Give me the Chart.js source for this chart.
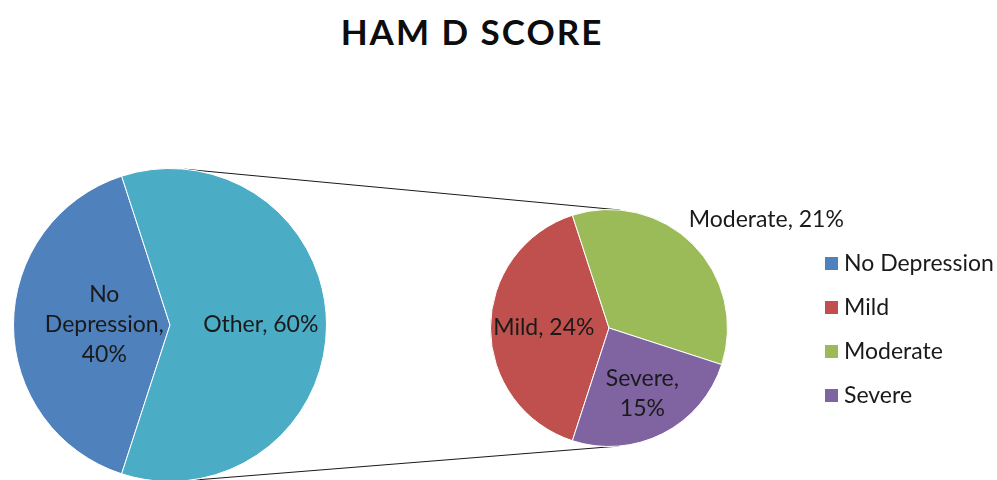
<!DOCTYPE html>
<html>
<head>
<meta charset="utf-8">
<title>HAM D SCORE</title>
<script src="https://cdn.jsdelivr.net/npm/chart.js@4.4.1/dist/chart.umd.min.js"></script>
<style>
  html, body { margin: 0; padding: 0; background: #fff; }
  #page { position: relative; width: 997px; height: 480px; overflow: hidden; font-family: Lato, "Open Sans", sans-serif; }
  #title { position: absolute; left: 0; top: 10px; width: 944px; text-align: center; font-weight: bold; font-size: 35px; letter-spacing: 2px; color: #0d0d0d; }
  .pie { position: absolute; }
  #links { position: absolute; left: 0; top: 0; pointer-events: none; }
  #legend { position: absolute; left: 825px; top: 249px; }
  #legend div { height: 44px; line-height: 26px; font-size: 23px; color: #1a1a1a; white-space: nowrap; }
  #legend span { display: inline-block; width: 13px; height: 13px; margin-right: 6px; vertical-align: 1px; }
</style>
</head>
<body>
<div id="page">
  <div id="title">HAM D SCORE</div>
  <canvas id="links" width="997" height="480"></canvas>
  <div class="pie" style="left:0px; top:155px; width:340px; height:340px;"><canvas id="mainPie"></canvas></div>
  <div class="pie" style="left:484px; top:203px; width:390px; height:250px;"><canvas id="subPie"></canvas></div>
  <div id="legend"></div>
</div>
<script>
// first pie: no depression vs. everyone else
const mainLabels = ['No Depression', 'Other'];
const mainValues = [40, 60];
const mainColors = ['#4F81BD', '#4BACC6'];

// second pie: how the "Other" group splits up
const subLabels = ['Mild', 'Moderate', 'Severe'];
const subValues = [24, 21, 15];
const subColors = ['#C0504D', '#9BBB59', '#8064A2'];

const legendLabels = ['No Depression', 'Mild', 'Moderate', 'Severe'];
const legendColors = [mainColors[0], ...subColors];

const labelFont = '23px Lato, "Open Sans", sans-serif';

// draws "Name, NN%" on each slice
const sliceLabels = {
    id: 'sliceLabels',
    afterDatasetsDraw(chart, args, opts) {
        const ctx = chart.ctx;
        const values = chart.data.datasets[0].data;
        chart.getDatasetMeta(0).data.forEach((arc, i) => {
            const p = opts.place[i];
            const mid = (arc.startAngle + arc.endAngle) / 2;
            const r = arc.outerRadius * p.frac;
            const x = arc.x + Math.cos(mid) * r + (p.dx || 0);
            const y = arc.y + Math.sin(mid) * r + (p.dy || 0);
            const text = chart.data.labels[i] + ', ' + values[i] + '%';
            const lines = p.wrap ? text.split(' ') : [text];
            ctx.save();
            ctx.font = labelFont;
            ctx.fillStyle = '#1a1a1a';
            ctx.textAlign = p.align || 'center';
            ctx.textBaseline = 'middle';
            lines.forEach((ln, k) => {
                ctx.fillText(ln, x, y + (k - (lines.length - 1) / 2) * 30);
            });
            ctx.restore();
        });
    }
};

function pieOptions(padding, place) {
    return {
        responsive: true,
        maintainAspectRatio: false,
        animation: false,
        rotation: 198,
        layout: { padding: padding },
        plugins: {
            legend: { display: false },
            tooltip: { enabled: false },
            sliceLabels: { place: place }
        }
    };
}

const mainChart = new Chart(document.getElementById('mainPie'), {
    type: 'pie',
    data: {
        labels: mainLabels,
        datasets: [{ data: mainValues, backgroundColor: mainColors, borderColor: '#ffffff', borderWidth: 1 }]
    },
    options: pieOptions(13, [
        { frac: 0.42, wrap: true },
        { frac: 0.58 }
    ]),
    plugins: [sliceLabels]
});

// extra room on the right so the outside label is not cut off
const subChart = new Chart(document.getElementById('subPie'), {
    type: 'pie',
    data: {
        labels: subLabels,
        datasets: [{ data: subValues, backgroundColor: subColors, borderColor: '#ffffff', borderWidth: 1 }]
    },
    options: pieOptions({ left: 6, top: 6, bottom: 6, right: 146 }, [
        { frac: 0.55 },
        { frac: 1.0, dx: -4, dy: -25, align: 'left' },
        { frac: 0.62, wrap: true }
    ]),
    plugins: [sliceLabels]
});

// two outer tangent lines joining the pies
function drawLinks() {
    const page = document.getElementById('page').getBoundingClientRect();
    const centre = chart => {
        const arc = chart.getDatasetMeta(0).data[0];
        const box = chart.canvas.getBoundingClientRect();
        return { x: box.left - page.left + arc.x, y: box.top - page.top + arc.y, r: arc.outerRadius };
    };
    const a = centre(mainChart);
    const b = centre(subChart);
    const base = Math.atan2(b.y - a.y, b.x - a.x);
    const dist = Math.hypot(b.x - a.x, b.y - a.y);
    const phi = Math.acos((a.r - b.r) / dist);

    const ctx = document.getElementById('links').getContext('2d');
    ctx.strokeStyle = '#1a1a1a';
    ctx.lineWidth = 1;
    [-phi, phi].forEach(off => {
        const t = base + off;
        ctx.beginPath();
        ctx.moveTo(a.x + a.r * Math.cos(t), a.y + a.r * Math.sin(t));
        ctx.lineTo(b.x + b.r * Math.cos(t), b.y + b.r * Math.sin(t));
        ctx.stroke();
    });
}
drawLinks();

const legend = document.getElementById('legend');
legendLabels.forEach((name, i) => {
    const row = document.createElement('div');
    const box = document.createElement('span');
    box.style.background = legendColors[i];
    row.appendChild(box);
    row.appendChild(document.createTextNode(name));
    legend.appendChild(row);
});
</script>
</body>
</html>
